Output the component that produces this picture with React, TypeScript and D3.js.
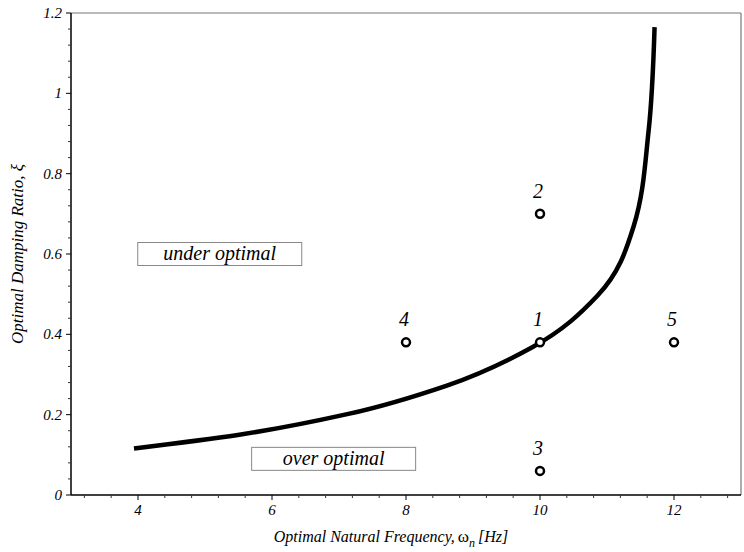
import React from "react";
import * as d3 from "d3";

// Optimal damping curve: natural frequency [Hz] vs damping ratio
const curveOmega = [3.94, 5.49, 7.14, 8.61, 9.885, 10.86, 11.4, 11.62, 11.71];
const curveXi = [0.116, 0.1496, 0.2019, 0.2725, 0.3679, 0.4966, 0.6703, 0.9048, 1.165];

// Design points
const pointLabels = ["1", "2", "3", "4", "5"];
const pointOmega = [10, 10, 10, 8, 12];
const pointXi = [0.38, 0.7, 0.06, 0.38, 0.38];

// Region annotations
const regionLabels = ["under optimal", "over optimal"];
const regionOmega = [5.22, 6.92];
const regionXi = [0.6, 0.09];

const xMajorTicks = [4, 6, 8, 10, 12];
const yMajorTicks = [0, 0.2, 0.4, 0.6, 0.8, 1, 1.2];

const W = 744;
const H = 552;
const left = 71;
const right = 741;
const top = 13;
const bottom = 495;

const serif = { fontFamily: "Liberation Serif", fontStyle: "italic" as const };

export default function App() {
  const x = d3.scaleLinear().domain([3, 13]).range([left, right]);
  const y = d3.scaleLinear().domain([0, 1.2]).range([bottom, top]);

  const xMinor = d3.range(3.2, 13.0001, 0.4).filter(
    (v) => !xMajorTicks.some((m) => Math.abs(m - v) < 1e-6)
  );
  const yMinor = d3.range(0.04, 1.2001, 0.04).filter(
    (v) => !yMajorTicks.some((m) => Math.abs(m - v) < 1e-6)
  );

  // drawn top-down so screen y increases along the path (monotone in y)
  const order = d3.range(curveOmega.length).reverse();
  const line = d3
    .line<number>()
    .x((i) => x(curveOmega[i]))
    .y((i) => y(curveXi[i]))
    .curve(d3.curveMonotoneY);

  return (
    <svg
      width={W}
      height={H}
      style={{ position: "absolute", left: 0, top: 0, background: "#fff" }}
    >
      <rect width={W} height={H} fill="#fff" />
      {/* frame */}
      <line x1={left} x2={right} y1={top} y2={top} stroke="#777" strokeWidth={1.2} />
      <line x1={right} x2={right} y1={top} y2={bottom} stroke="#777" strokeWidth={1.2} />
      <line x1={left} x2={left} y1={top} y2={bottom} stroke="#000" strokeWidth={1.5} />
      <line x1={left} x2={right} y1={bottom} y2={bottom} stroke="#000" strokeWidth={1.5} />

      {/* x ticks */}
      {xMinor.map((v) => (
        <line key={"xm" + v} x1={x(v)} x2={x(v)} y1={bottom} y2={bottom + 3} stroke="#333" strokeWidth={1} />
      ))}
      {xMajorTicks.map((v) => (
        <g key={"xt" + v}>
          <line x1={x(v)} x2={x(v)} y1={bottom} y2={bottom + 5} stroke="#000" strokeWidth={1} />
          <text x={x(v)} y={bottom + 20} textAnchor="middle" fontSize={15} style={serif}>
            {v}
          </text>
        </g>
      ))}

      {/* y ticks */}
      {yMinor.map((v) => (
        <line key={"ym" + v} x1={left - 3} x2={left} y1={y(v)} y2={y(v)} stroke="#333" strokeWidth={1} />
      ))}
      {yMajorTicks.map((v) => (
        <g key={"yt" + v}>
          <line x1={left - 5} x2={left} y1={y(v)} y2={y(v)} stroke="#000" strokeWidth={1} />
          <text x={left - 9} y={y(v) + 5} textAnchor="end" fontSize={15} style={serif}>
            {v}
          </text>
        </g>
      ))}

      {/* axis titles */}
      <text x={391} y={542} textAnchor="middle" fontSize={16} style={serif}>
        Optimal Natural Frequency,
        <tspan style={{ fontStyle: "normal" }} dx={3} fontSize={17}>ω</tspan>
        <tspan fontSize={12} dy={5}>n</tspan>
        <tspan dy={-5} dx={3}>[Hz]</tspan>
      </text>
      <text
        transform={`translate(23, 254) rotate(-90)`}
        textAnchor="middle"
        fontSize={17}
        style={serif}
      >
        Optimal Damping Ratio, ξ
      </text>

      {/* optimal curve */}
      <path d={line(order) ?? ""} fill="none" stroke="#000" strokeWidth={4.5} />

      {/* region boxes */}
      {regionLabels.map((t, i) => (
        <g key={t}>
          <rect
            x={x(regionOmega[i]) - 82}
            y={y(regionXi[i]) - 11.5}
            width={164}
            height={23}
            fill="#fff"
            stroke="#888"
            strokeWidth={1}
          />
          <text
            x={x(regionOmega[i])}
            y={y(regionXi[i]) + 6}
            textAnchor="middle"
            fontSize={20}
            style={serif}
          >
            {t}
          </text>
        </g>
      ))}

      {/* design points */}
      {pointLabels.map((t, i) => (
        <g key={t}>
          <circle cx={x(pointOmega[i])} cy={y(pointXi[i])} r={4} fill="#fff" stroke="#000" strokeWidth={2.5} />
          <text
            x={x(pointOmega[i]) - 2}
            y={y(pointXi[i]) - 16}
            textAnchor="middle"
            fontSize={20}
            style={serif}
          >
            {t}
          </text>
        </g>
      ))}
    </svg>
  );
}
